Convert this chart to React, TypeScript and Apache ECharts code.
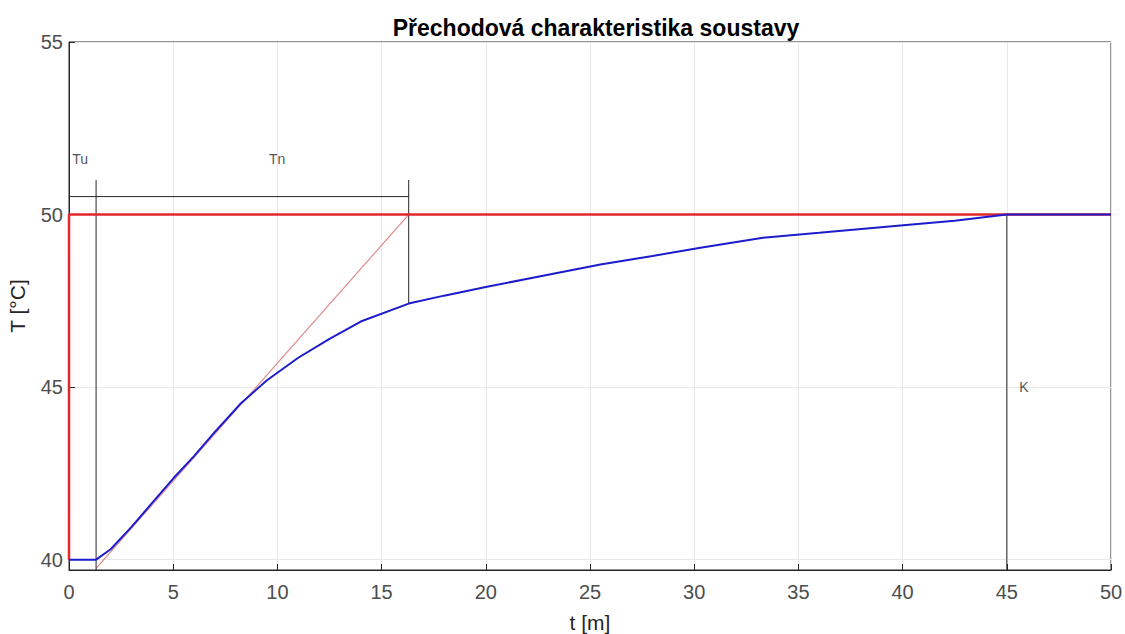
import React, { useEffect, useRef } from "react";
import * as echarts from "echarts";

// Step input (red)
const stepX = [0, 0, 50];
const stepY = [40, 50, 50];
// Measured response (blue)
const respX = [0, 1.3, 2, 3, 4, 5, 6, 7, 8.2, 9.5, 11, 12.5, 14, 16.3, 18, 20, 22.5, 25.5, 28, 30.3, 33.3, 36, 39.9, 42.5, 45, 50];
const respY = [40, 40, 40.3, 40.95, 41.65, 42.35, 43.0, 43.7, 44.5, 45.2, 45.85, 46.4, 46.9, 47.42, 47.65, 47.9, 48.2, 48.55, 48.8, 49.04, 49.33, 49.47, 49.68, 49.82, 50, 50];
// Tangent line (thin red)
const tangX = [1.3, 16.3];
const tangY = [39.75, 50];
// Construction lines (black)
const tuLineX = [1.3, 1.3];
const tuLineY = [51, 39.7];
const tnLineX = [16.3, 16.3];
const tnLineY = [51, 47.42];
const hLineX = [0, 16.3];
const hLineY = [50.52, 50.52];
const kLineX = [45, 45];
const kLineY = [50, 39.7];
// Annotation labels
const labelNames = ["Tu", "Tn", "K"];
const labelX = [0.15, 9.6, 45.6];
const labelY = [51.6, 51.6, 45];

const xTicks = { min: 0, max: 50, interval: 5 };
const yRange = { min: 39.7, max: 55 };

const zip = (xs: number[], ys: number[]) => xs.map((x, i) => [x, ys[i]]);

export default function App() {
  const ref = useRef<HTMLDivElement>(null);
  useEffect(() => {
    const chart = echarts.init(ref.current!, null, { renderer: "svg" });
    const font = "'Liberation Sans', Arial, Helvetica, sans-serif";
    const blackLine = (xs: number[], ys: number[]) => ({
      type: "line",
      data: zip(xs, ys),
      showSymbol: false,
      symbol: "none",
      lineStyle: { color: "#262626", width: 1 },
      z: 3,
    });
    chart.setOption({
      animation: false,
      backgroundColor: "#ffffff",
      textStyle: { fontFamily: font },
      title: {
        text: "Přechodová charakteristika soustavy",
        left: 591,
        textAlign: "center",
        top: 11,
        textStyle: { fontSize: 23, fontWeight: "bold", color: "#000", fontFamily: font },
      },
      grid: {
        left: 69,
        right: 14,
        top: 42,
        bottom: 64,
        outerBoundsMode: "none",
        containLabel: false,
        show: true,
        borderColor: "#262626",
        borderWidth: 1,
        backgroundColor: "transparent",
      },
      xAxis: {
        type: "value",
        min: xTicks.min,
        max: xTicks.max,
        interval: xTicks.interval,
        name: "t [m]",
        nameLocation: "middle",
        nameGap: 42,
        nameTextStyle: { fontSize: 21, color: "#262626", fontFamily: font },
        axisLine: { show: true, onZero: false, lineStyle: { color: "#262626" } },
        axisTick: { show: true, inside: true, length: 6, lineStyle: { color: "#262626" } },
        axisLabel: { fontSize: 20, color: "#4d4d4d", margin: 12, fontFamily: font },
        splitLine: { show: true, lineStyle: { color: "#e8e8e8", width: 1 } },
      },
      yAxis: {
        type: "value",
        min: yRange.min,
        max: yRange.max,
        splitNumber: 3,
        name: "T [°C]",
        nameLocation: "middle",
        nameGap: 41,
        nameRotate: 90,
        nameTextStyle: { fontSize: 21, color: "#262626", fontFamily: font },
        axisLine: { show: true, onZero: false, lineStyle: { color: "#262626" } },
        axisTick: { show: true, inside: true, length: 6, lineStyle: { color: "#262626" } },
        axisLabel: {
          fontSize: 20,
          color: "#4d4d4d",
          margin: 6,
          fontFamily: font,
          showMinLabel: false,
          formatter: (v: number) => (Math.abs(v - Math.round(v)) < 1e-6 ? String(Math.round(v)) : ""),
        },
        splitLine: { show: true, lineStyle: { color: "#e8e8e8", width: 1 } },
      },
      series: [
        {
          type: "line",
          data: zip(tangX, tangY),
          symbol: "none",
          lineStyle: { color: "#e08a8a", width: 1.2 },
          z: 2,
        },
        {
          type: "line",
          data: zip(stepX, stepY),
          symbol: "none",
          lineStyle: { color: "#e3262b", width: 2.5 },
          z: 4,
        },
        {
          type: "line",
          data: zip(respX, respY),
          symbol: "none",
          lineStyle: { color: "#1c1ccc", width: 2 },
          z: 5,
        },
        blackLine(tuLineX, tuLineY),
        blackLine(tnLineX, tnLineY),
        blackLine(hLineX, hLineY),
        blackLine(kLineX, kLineY),
        {
          type: "scatter",
          symbolSize: 0,
          data: labelNames.map((n, i) => ({ name: n, value: [labelX[i], labelY[i]] })),
          label: {
            show: true,
            formatter: "{b}",
            position: "right",
            distance: 0,
            fontSize: 14,
            color: "#262626",
            fontFamily: font,
          },
          z: 6,
        },
      ],
    });
    return () => chart.dispose();
  }, []);
  return (
    <div
      ref={ref}
      style={{ position: "fixed", left: 0, top: 0, width: 1125, height: 634 }}
    />
  );
}
